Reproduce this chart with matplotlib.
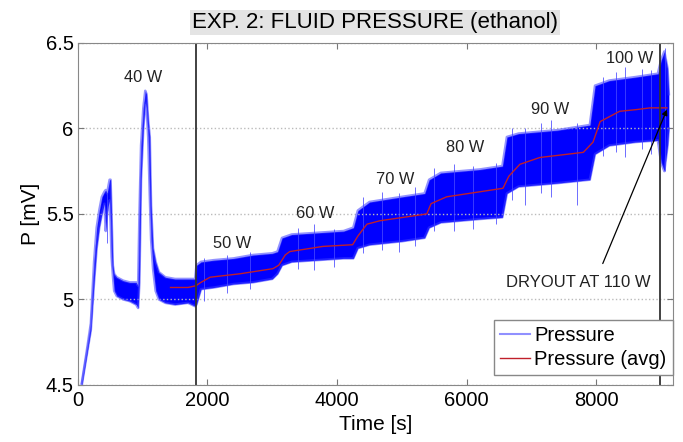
import matplotlib.pyplot as plt

plt.rcParams['font.family'] = ['Liberation Sans', 'DejaVu Sans']

# envelope of the raw pressure signal
t_env = [60, 130, 200, 250, 290, 330, 370, 410, 430, 450, 470, 490, 505, 520, 540, 560,
         600, 700, 800, 900, 930, 950, 975, 1010, 1040, 1060, 1085, 1110, 1130, 1160,
         1200, 1250, 1350, 1500, 1700, 1810, 1830, 1900, 2100, 2400, 2700, 3000, 3080,
         3150, 3300, 3700, 4100, 4250, 4320, 4500, 5000, 5350, 5420, 5600, 6200, 6550,
         6620, 6800, 7400, 7900, 7980, 8200, 8600, 8950, 9000, 9050, 9100, 9120]
p_low = [4.50, 4.66, 4.82, 5.10, 5.30, 5.42, 5.50, 5.56, 5.40, 5.50, 5.55, 5.58, 5.45, 5.25, 5.14, 5.05,
         5.02, 5.00, 4.99, 4.97, 4.95, 5.10, 5.70, 6.00, 6.15, 6.12, 5.95, 5.60, 5.35, 5.18,
         5.05, 5.00, 4.98, 4.97, 4.98, 4.96, 4.97, 5.06, 5.07, 5.09, 5.10, 5.12, 5.15,
         5.20, 5.22, 5.23, 5.24, 5.24, 5.30, 5.32, 5.34, 5.36, 5.42, 5.45, 5.47, 5.48,
         5.62, 5.66, 5.68, 5.70, 5.85, 5.90, 5.92, 5.93, 5.80, 5.75, 5.90, 6.00]
p_high = [4.51, 4.68, 4.86, 5.22, 5.42, 5.52, 5.60, 5.63, 5.64, 5.62, 5.66, 5.70, 5.70, 5.50, 5.20, 5.15,
          5.13, 5.11, 5.10, 5.10, 5.08, 5.50, 5.90, 6.12, 6.22, 6.20, 6.05, 5.95, 5.55, 5.30,
          5.22, 5.16, 5.13, 5.12, 5.12, 5.12, 5.20, 5.22, 5.23, 5.24, 5.26, 5.27, 5.28,
          5.36, 5.38, 5.39, 5.40, 5.42, 5.52, 5.57, 5.60, 5.62, 5.70, 5.74, 5.76, 5.78,
          5.95, 5.97, 5.99, 6.02, 6.25, 6.28, 6.30, 6.32, 6.40, 6.45, 6.35, 6.20]

# visible spikes sticking out of the band
spike_t = [445, 1950, 2300, 2650, 3400, 3650, 3950, 4400, 4700, 4950, 5200, 5500, 5800, 6100,
           6450, 6700, 6900, 7150, 7300, 7700, 8100, 8300, 8450, 8700, 8850, 9060]
spike_lo = [5.33, 4.99, 5.04, 5.06, 5.18, 5.17, 5.19, 5.27, 5.29, 5.28, 5.31, 5.40, 5.40, 5.41,
            5.44, 5.58, 5.55, 5.62, 5.60, 5.55, 5.84, 5.86, 5.83, 5.88, 5.85, 5.75]
spike_hi = [5.62, 5.24, 5.26, 5.28, 5.42, 5.44, 5.41, 5.60, 5.63, 5.62, 5.66, 5.77, 5.79, 5.78,
            5.80, 6.00, 6.00, 6.03, 6.05, 6.03, 6.30, 6.33, 6.36, 6.35, 6.34, 6.47]

# running average
t_avg = [1430, 1700, 1820, 1900, 2040, 2500, 3010, 3100, 3200, 3270, 3780, 4240, 4320, 4460,
         4660, 5385, 5450, 5690, 6560, 6650, 6820, 7130, 7800, 7950, 8060, 8360, 8620, 8830, 9090]
p_avg = [5.07, 5.07, 5.08, 5.10, 5.13, 5.15, 5.18, 5.20, 5.26, 5.28, 5.31, 5.32, 5.37, 5.44,
         5.46, 5.50, 5.56, 5.60, 5.65, 5.72, 5.79, 5.83, 5.86, 5.92, 6.04, 6.10, 6.11, 6.12, 6.12]

power_labels = ['40 W', '50 W', '60 W', '70 W', '80 W', '90 W', '100 W']
label_t = [1000, 2375, 3660, 4890, 5970, 7280, 8520]
label_p = [6.30, 5.33, 5.50, 5.70, 5.89, 6.11, 6.41]

fig = plt.figure(figsize=(6.83, 4.42), dpi=100)
ax = fig.add_axes([0.114, 0.129, 0.871, 0.774])

ax.fill_between(t_env, p_low, p_high, color='#0000ff', linewidth=0)
# soft, fuzzy edges of the noisy band
ax.plot(t_env, p_low, color='#3a3aff', linewidth=1.8, alpha=0.55)
ax.plot(t_env, p_high, color='#3a3aff', linewidth=1.8, alpha=0.55)
ax.vlines(spike_t, spike_lo, spike_hi, color='#4848ff', linewidth=0.7, alpha=0.8)
ax.plot([], [], color='#9090ff', linewidth=1.5, label='Pressure')
ax.plot(t_avg, p_avg, color='#c0202a', linewidth=1.0, label='Pressure (avg)')

ax.axvline(1820, color='#333333', linewidth=1.3)
ax.axvline(8980, color='#333333', linewidth=1.3)

for lab, x, y in zip(power_labels, label_t, label_p):
    ax.text(x, y, lab, ha='center', va='center', fontsize=11.8, color='#222222')

ax.annotate('', xy=(9090, 6.11), xytext=(8100, 5.21),
            arrowprops=dict(arrowstyle='-|>', color='black', lw=0.9,
                            mutation_scale=8, shrinkA=0, shrinkB=0))
ax.text(7720, 5.10, 'DRYOUT AT 110 W', ha='center', va='center', fontsize=12, color='#222222')

ax.set_xlim(0, 9180)
ax.set_ylim(4.5, 6.5)
ax.set_xticks([0, 2000, 4000, 6000, 8000])
ax.set_yticks([4.5, 5, 5.5, 6, 6.5])
ax.set_yticklabels(['4.5', '5', '5.5', '6', '6.5'])
ax.tick_params(direction='in', top=True, right=True, labelsize=14.5, length=4, color='#777777')
ax.tick_params(axis='x', pad=4)
ax.tick_params(axis='y', pad=3)
ax.yaxis.grid(True, linestyle=':', color='#bbbbbb', linewidth=1)
for s in ax.spines.values():
    s.set_color('#888888')

ax.set_xlabel('Time [s]', fontsize=15, labelpad=4)
ax.set_ylabel('P [mV]', fontsize=15, labelpad=4)
ax.set_title('EXP. 2: FLUID PRESSURE (ethanol)', fontsize=16, pad=11,
             bbox=dict(facecolor='#e4e4e4', edgecolor='none', pad=1.5))

leg = ax.legend(loc='lower right', bbox_to_anchor=(1.0, 0.03), borderaxespad=0,
                fancybox=False, fontsize=14.5, handlelength=1.5, handletextpad=0.2,
                borderpad=0.3, labelspacing=0.25, framealpha=1)
leg.get_frame().set_edgecolor('#888888')

fig.savefig('out.png', dpi=100)
